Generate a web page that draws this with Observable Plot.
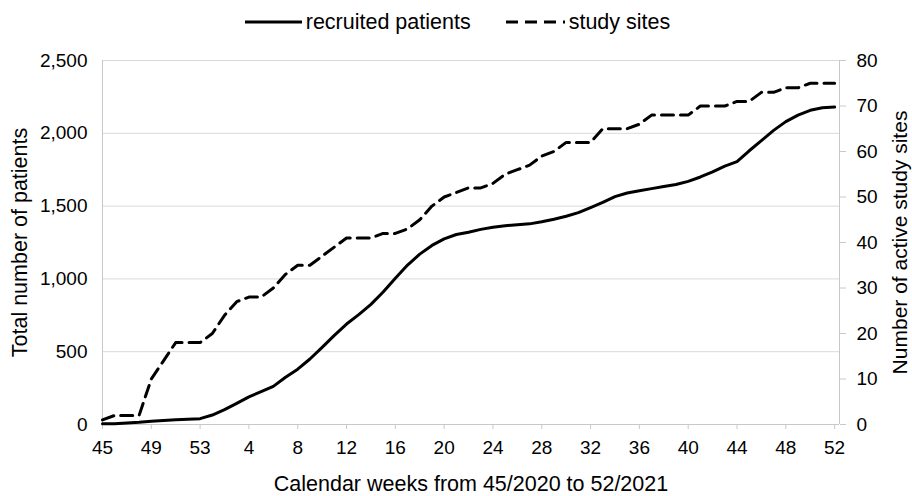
<!DOCTYPE html>
<html>
<head>
<meta charset="utf-8">
<script src="https://cdn.jsdelivr.net/npm/d3@7"></script>
<script src="https://cdn.jsdelivr.net/npm/@observablehq/plot@0.6"></script>
<style>
  html, body { margin: 0; padding: 0; background: #fff; }
  body { width: 912px; height: 496px; overflow: hidden; font-family: "Liberation Sans", Arial, sans-serif; color: #000; }
  #legend { height: 44px; display: flex; align-items: center; justify-content: center; font-size: 21.5px; padding-left: 3px; }
  .item { display: flex; align-items: center; }
  .item svg { margin-right: 4px; }
  .gap { width: 35px; }
</style>
</head>
<body>
<div id="legend"></div>
<div id="chart"></div>
<script>
// Calendar week labels: 45/2020 .. 53/2020, 1/2021 .. 52/2021
const weekLabels = [45,46,47,48,49,50,51,52,53,
  1,2,3,4,5,6,7,8,9,10,11,12,13,14,15,16,17,18,19,20,21,22,23,24,25,26,
  27,28,29,30,31,32,33,34,35,36,37,38,39,40,41,42,43,44,45,46,47,48,49,50,51,52];

// Total recruited patients (cumulative)
const patients = [5,5,10,15,22,27,32,36,40,
  65,102,145,190,225,262,325,380,450,530,612,690,755,825,910,1005,1095,1170,
  1230,1275,1305,1320,1340,1355,1365,1372,1378,1392,1410,1430,1455,1490,1525,
  1565,1590,1605,1620,1635,1648,1670,1700,1735,1775,1805,1880,1950,2020,2080,
  2125,2158,2175,2180];

// Number of active study sites
const sites = [1,2,2,2,10,14,18,18,18,
  20,24,27,28,28,30,33,35,35,37,39,41,41,41,42,42,43,45,48,50,51,52,52,53,55,
  56,57,59,60,62,62,62,65,65,65,66,68,68,68,68,70,70,70,71,71,73,73,74,74,75,75,75];

const xTickLabels = [45,49,53,4,8,12,16,20,24,28,32,36,40,44,48,52];
const leftTicks = [0,500,1000,1500,2000,2500];
const rightTicks = [0,10,20,30,40,50,60,70,80];
const seriesNames = ["recruited patients", "study sites"];
const titles = {
  x: "Calendar weeks from 45/2020 to 52/2021",
  left: "Total number of patients",
  right: "Number of active study sites"
};

const leftMax = 2500, rightMax = 80;
const k = leftMax / rightMax;
const xMax = weekLabels.length - 1 + 0.4;

const data = weekLabels.map((w, i) => ({i, week: w, patients: patients[i], sites: sites[i]}));
// tick index positions: every 4th week starting at index 0
const xTickIdx = xTickLabels.map((_, j) => j * 4);

// Legend
const legend = document.getElementById("legend");
legend.innerHTML = `
  <div class="item"><svg width="57" height="10"><line x1="0" x2="57" y1="5" y2="5" stroke="#000" stroke-width="3"/></svg><span>${seriesNames[0]}</span></div>
  <div class="gap"></div>
  <div class="item"><svg width="59" height="10"><line x1="0" x2="59" y1="5" y2="5" stroke="#000" stroke-width="3" stroke-dasharray="12,7"/></svg><span>${seriesNames[1]}</span></div>`;

const gray = "#c8c8c8";
const chart = Plot.plot({
  width: 912,
  height: 452,
  marginLeft: 102,
  marginRight: 73,
  marginTop: 16,
  marginBottom: 72,
  style: { fontFamily: "Liberation Sans, Arial, sans-serif", fontSize: "19px", color: "#000", background: "#fff" },
  x: { domain: [0, xMax] },
  y: { domain: [0, leftMax] },
  marks: [
    Plot.gridY(leftTicks, { stroke: "#d9d9d9", strokeOpacity: 1 }),
    Plot.ruleY([0], { stroke: gray }),
    Plot.ruleX([0, xMax], { stroke: gray }),
    Plot.axisY(leftTicks, { anchor: "left", tickSize: 0, tickPadding: 15, tickFormat: d3.format(","), label: null, fontSize: 19 }),
    Plot.axisY(rightTicks.map(v => v * k), { anchor: "right", tickSize: 6, tickPadding: 11, tickFormat: d => Math.round(d / k), label: null, stroke: gray, fill: "#000", fontSize: 19 }),
    Plot.axisX(xTickIdx, { anchor: "bottom", tickSize: 5, tickPadding: 11, tickFormat: (d, j) => xTickLabels[j], label: null, stroke: gray, fill: "#000", fontSize: 19 }),
    Plot.line(data, { x: "i", y: "patients", stroke: "#000", strokeWidth: 3, curve: "linear" }),
    Plot.line(data, { x: "i", y: d => d.sites * k, stroke: "#000", strokeWidth: 3, strokeDasharray: "12,7" }),
    Plot.text([titles.x], { frameAnchor: "bottom", dy: 60, fontSize: 21.5, lineAnchor: "middle", textAnchor: "middle", fill: "#000" }),
    Plot.text([titles.left], { frameAnchor: "left", dx: -82, rotate: -90, fontSize: 21.5, lineAnchor: "middle", textAnchor: "middle", fill: "#000" }),
    Plot.text([titles.right], { frameAnchor: "right", dx: 61, rotate: -90, fontSize: 21, lineAnchor: "middle", textAnchor: "middle", fill: "#000" })
  ]
});
document.getElementById("chart").appendChild(chart);
</script>
</body>
</html>
